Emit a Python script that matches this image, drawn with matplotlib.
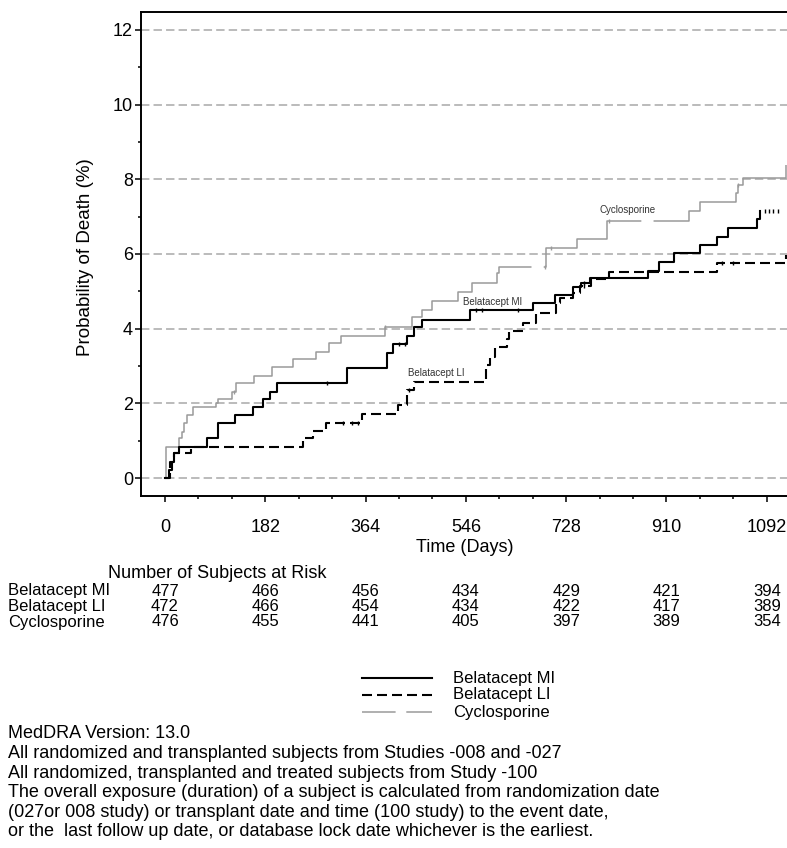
import numpy as np
import matplotlib
matplotlib.use("Agg")
import matplotlib.pyplot as plt
import matplotlib.transforms as mtransforms
from matplotlib.lines import Line2D
from matplotlib.ticker import MultipleLocator, FixedLocator

plt.rcParams['font.family'] = ['Liberation Sans', 'DejaVu Sans']

W, H = 787, 848

# Kaplan-Meier step points: (day, cumulative probability of death in %)
mi_days = [0, 8, 12, 17, 26, 77, 97, 127, 159, 178, 190, 204, 331, 402, 414, 440, 452,
           466, 553, 668, 708, 740, 755, 771, 877, 897, 924, 971, 1001, 1022, 1074, 1080]
mi_prob = [0, 0.21, 0.44, 0.66, 0.84, 1.06, 1.48, 1.69, 1.91, 2.11, 2.31, 2.54, 2.94, 3.36, 3.59,
           3.80, 4.04, 4.23, 4.50, 4.70, 4.90, 5.11, 5.23, 5.35, 5.55, 5.79, 6.04, 6.24, 6.46,
           6.69, 6.93, 7.16]

li_days = [0, 9, 17, 48, 251, 268, 293, 357, 423, 439, 451, 583, 590, 599, 620, 625, 650,
           673, 710, 717, 740, 753, 773, 805, 1001, 1126]
li_prob = [0, 0.44, 0.66, 0.84, 1.06, 1.27, 1.48, 1.71, 1.96, 2.36, 2.58, 3.03, 3.25, 3.52,
           3.72, 3.95, 4.14, 4.41, 4.68, 4.83, 4.95, 5.13, 5.32, 5.51, 5.75, 5.97]

cy_days = [0, 1, 26, 30, 34, 40, 51, 93, 96, 121, 129, 162, 195, 232, 274, 298, 319, 399,
           448, 466, 484, 532, 557, 602, 606, 691, 747, 802, 950, 971, 1037, 1040, 1049, 1127]
cy_prob = [0, 0.84, 1.06, 1.24, 1.47, 1.69, 1.91, 2.01, 2.11, 2.31, 2.54, 2.73, 2.98, 3.18,
           3.38, 3.61, 3.80, 4.04, 4.30, 4.50, 4.74, 4.99, 5.23, 5.48, 5.66, 6.15, 6.39, 6.88,
           7.14, 7.40, 7.63, 7.85, 8.03, 8.38]

# censored subjects
mi_cens = [294, 425, 436, 565, 575, 640, 760, 1088, 1096, 1104, 1112]
li_cens = [323, 340, 350, 443, 760, 1010, 1030]
cy_cens = [125, 400, 690, 700, 805, 1040]

xticks = [0, 182, 364, 546, 728, 910, 1092]
risk_groups = ["Belatacept MI", "Belatacept LI", "Cyclosporine"]
risk_counts = [
    [477, 466, 456, 434, 429, 421, 394],
    [472, 466, 454, 434, 422, 417, 389],
    [476, 455, 441, 405, 397, 389, 354],
]

footnotes = [
    "MedDRA Version: 13.0",
    "All randomized and transplanted subjects from Studies -008 and -027",
    "All randomized, transplanted and treated subjects from Study -100",
    "The overall exposure (duration) of a subject is calculated from randomization date",
    "(027or 008 study) or transplant date and time (100 study) to the event date,",
    "or the  last follow up date, or database lock date whichever is the earliest.",
]


def fx(x):
    return x / W


def fy(y):
    return 1 - y / H


def step_value(days, prob, t):
    i = np.searchsorted(days, t, side="right") - 1
    return np.array(prob)[i]


FS = 13
TFS = 12

fig = plt.figure(figsize=(W / 100, H / 100), dpi=100)
ax = fig.add_axes([fx(141), fy(496), fx(800) - fx(141), fy(12) - fy(496)])

for y in range(0, 13, 2):
    ax.axhline(y, color="#a8a8a8", lw=1.1, ls=(0, (5.5, 2.7)), zorder=1)

mi_style = dict(color="black", lw=1.5, ls="-")
li_style = dict(color="black", lw=1.5, ls=(0, (4.8, 2.4)))
cy_style = dict(color="#9a9a9a", lw=1.1)

ax.step(mi_days, mi_prob, where="post", zorder=3, **mi_style)
ax.step(li_days, li_prob, where="post", zorder=3, **li_style)
ax.step(cy_days, cy_prob, where="post", zorder=2, ls=(0, (378, 8, 94, 8, 2000)), **cy_style)

for days, prob, cens, col in [(mi_days, mi_prob, mi_cens, "black"),
                              (li_days, li_prob, li_cens, "black"),
                              (cy_days, cy_prob, cy_cens, "#9a9a9a")]:
    ax.plot(cens, step_value(days, prob, cens), ls="none", marker="|", ms=3.5, mew=1,
            color=col, zorder=4)

ax.text(789, 7.18, "Cyclosporine", fontsize=7, color="#333333", va="center")
ax.text(541, 4.71, "Belatacept MI", fontsize=7, color="#333333", va="center")
ax.text(441, 2.81, "Belatacept LI", fontsize=7, color="#333333", va="center")

ax.set_xlim(-43.6, 1152.3)
ax.set_ylim(-0.48, 12.48)
ax.xaxis.set_major_locator(FixedLocator(xticks))
ax.xaxis.set_minor_locator(MultipleLocator(182 / 3))
ax.yaxis.set_major_locator(MultipleLocator(2))
ax.yaxis.set_minor_locator(MultipleLocator(1))
ax.tick_params(which="major", length=4.3, width=1.1, labelsize=FS)
ax.tick_params(which="minor", length=2.2, width=1.1)
ax.tick_params(axis="x", which="major", pad=12)
ax.tick_params(axis="y", which="major", pad=1.5)
for s in ax.spines.values():
    s.set_linewidth(1.4)

fig.text(fx(465), fy(548), "Time (Days)", fontsize=FS, ha="center", va="center")
fig.text(fx(85), fy(257), "Probability of Death (%)", fontsize=13.5, rotation=90,
         ha="center", va="center")

# number at risk table under the x axis
trans = mtransforms.blended_transform_factory(ax.transData, fig.transFigure)
fig.text(fx(108), fy(574), "Number of Subjects at Risk", fontsize=FS, va="center")
for k, (grp, counts) in enumerate(zip(risk_groups, risk_counts)):
    yy = fy(591 + 15.5 * k)
    fig.text(fx(8), yy, grp, fontsize=TFS, va="center")
    for d, n in zip(xticks, counts):
        ax.text(d, yy, str(n), transform=trans, fontsize=TFS, ha="center", va="center",
                clip_on=False)

# legend
leg_styles = [mi_style, li_style, dict(cy_style, ls=(0, (22, 7)))]
for k, (grp, st) in enumerate(zip(risk_groups, leg_styles)):
    yy = fy(678 + 17 * k)
    fig.add_artist(Line2D([fx(362), fx(432)], [yy, yy], transform=fig.transFigure, **st))
    fig.text(fx(453), yy, grp, fontsize=TFS, va="center")

for k, line in enumerate(footnotes):
    fig.text(fx(8), fy(734 + 19.6 * k), line, fontsize=FS, va="center")

fig.savefig("out.png", dpi=100)
